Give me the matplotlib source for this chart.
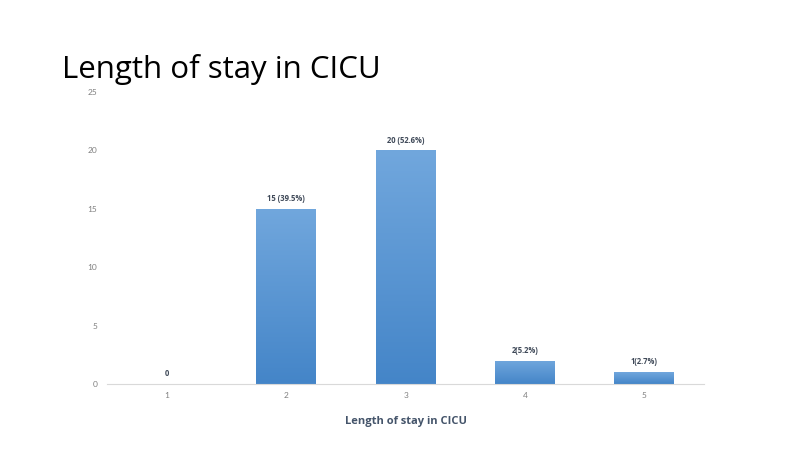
import matplotlib
matplotlib.use("Agg")
import matplotlib.pyplot as plt
import numpy as np
from matplotlib.colors import LinearSegmentedColormap

categories = ["1", "2", "3", "4", "5"]
values = [0, 15, 20, 2, 1]
labels = ["0", "15 (39.5%)", "20 (52.6%)", "2(5.2%)", "1(2.7%)"]
yticks = [0, 5, 10, 15, 20, 25]

plt.rcParams["font.family"] = ["Lato", "DejaVu Sans"]

fig = plt.figure(figsize=(8, 4.5), dpi=100)
ax = fig.add_axes([0.134, 0.1467, 0.746, 0.649])

x = np.arange(len(categories))
bars = ax.bar(x, values, width=0.5, color="#5B9BD5", zorder=2)

cmap = LinearSegmentedColormap.from_list("g", ["#4485C8", "#71A7DD"])
grad = np.linspace(0, 1, 256).reshape(-1, 1)
for b in bars:
    if b.get_height() <= 0:
        continue
    b.set_facecolor("none")
    im = ax.imshow(grad, cmap=cmap, origin="lower", aspect="auto",
                   extent=[b.get_x(), b.get_x() + b.get_width(), 0, b.get_height()],
                   zorder=2)
    im.set_clip_path(b)

for xi, v, lab in zip(x, values, labels):
    ax.text(xi, v + 0.5, lab, ha="center", va="bottom", fontsize=5.5,
            fontweight="bold", family="Open Sans", color="#404A59")

ax.set_xlim(-0.5, len(categories) - 0.5)
ax.set_ylim(0, 25)
ax.set_xticks(x)
ax.set_xticklabels(categories)
ax.set_yticks(yticks)
ax.tick_params(axis="both", length=0, labelsize=6, labelcolor="#7F7F7F")
ax.tick_params(axis="y", pad=7)
ax.tick_params(axis="x", pad=6)
for s in ["top", "right", "left"]:
    ax.spines[s].set_visible(False)
ax.spines["bottom"].set_color("#D9D9D9")
ax.spines["bottom"].set_linewidth(0.8)

ax.set_xlabel("Length of stay in CICU", fontsize=8, fontweight="bold",
              family="Open Sans", color="#44546A", labelpad=12)

fig.text(0.0775, 0.845, "Length of stay in CICU", fontsize=22.5, family="Open Sans",
         color="#000000", ha="left", va="center")

fig.savefig("out.png", dpi=100)
